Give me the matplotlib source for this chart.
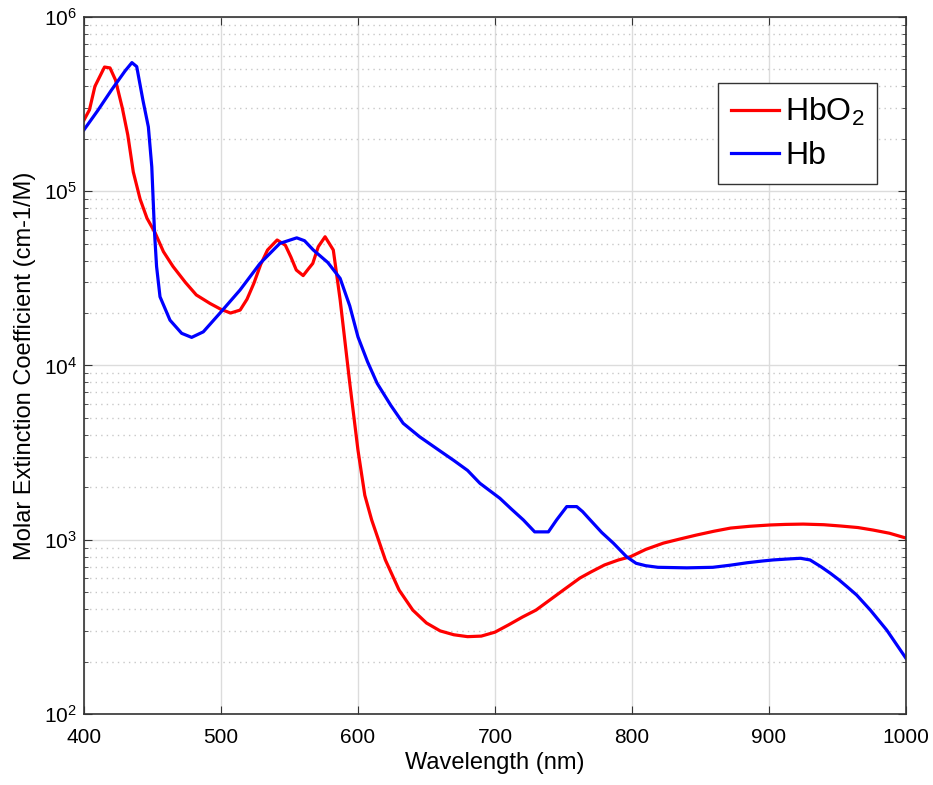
import numpy as np
import matplotlib.pyplot as plt

plt.rcParams['font.family'] = ['Liberation Sans', 'DejaVu Sans']
plt.rcParams['mathtext.default'] = 'regular'

# HbO2 (oxy-hemoglobin)
wl_hbo2 = [400, 404, 408, 415, 419, 423, 428, 432, 436, 441, 446, 452, 458, 465, 474,
           482, 492, 500, 507, 514, 519, 524, 529, 534, 541, 547, 551, 555, 560, 564,
           567, 571, 576, 582, 587, 594, 600, 605, 610, 620, 630, 640, 650, 660, 670,
           680, 690, 700, 710, 720, 730, 740, 750, 762, 770, 780, 790, 799, 810, 823,
           835, 847, 860, 872, 886, 901, 912, 925, 940, 952, 965, 976, 988, 1000]
hbo2 = [2.56e5, 2.93e5, 4.0e5, 5.16e5, 5.1e5, 4.35e5, 3.0e5, 2.1e5, 1.29e5, 9.0e4,
        7.0e4, 5.76e4, 4.5e4, 3.7e4, 3.0e4, 2.54e4, 2.27e4, 2.1e4, 2.0e4, 2.08e4,
        2.4e4, 2.96e4, 3.8e4, 4.6e4, 5.25e4, 4.9e4, 4.2e4, 3.53e4, 3.28e4, 3.6e4,
        3.85e4, 4.8e4, 5.48e4, 4.6e4, 2.38e4, 7.94e3, 3.27e3, 1.8e3, 1.3e3, 766, 515,
        395, 333, 300, 285, 278, 280, 295, 325, 360, 395, 451, 515, 603, 653, 717, 765,
        800, 880, 957, 1010, 1064, 1120, 1167, 1195, 1216, 1225, 1230, 1220, 1200, 1175,
        1137, 1090, 1023]

# Hb (deoxy-hemoglobin)
wl_hb = [400, 410, 420, 430, 435, 438.5, 443, 447, 449.5, 451.5, 453, 455.5, 462.8,
         471.3, 478.6, 487.1, 499.3, 513.9, 528.5, 543, 555.3, 561, 567.4, 578, 587,
         594, 600, 607, 614, 624, 633, 645, 659, 670, 680, 689, 703.6, 712, 720.7, 729,
         739, 745, 752.4, 759.7, 764, 769.5, 778, 786.5, 796, 803, 810, 819, 840, 859,
         872, 884, 895, 903, 913, 923, 930, 938, 945, 951, 957, 964, 974, 986, 1000]
hb = [2.25e5, 2.9e5, 3.8e5, 4.9e5, 5.47e5, 5.19e5, 3.34e5, 2.34e5, 1.38e5, 5.8e4,
      3.7e4, 2.48e4, 1.82e4, 1.53e4, 1.45e4, 1.56e4, 2.0e4, 2.71e4, 3.85e4, 5.02e4,
      5.4e4, 5.2e4, 4.6e4, 3.9e4, 3.16e4, 2.2e4, 1.46e4, 1.05e4, 7.9e3, 5.9e3, 4.66e3,
      3.9e3, 3.27e3, 2.85e3, 2.5e3, 2.11e3, 1.73e3, 1.5e3, 1.3e3, 1.11e3, 1.11e3,
      1.3e3, 1.55e3, 1.55e3, 1.45e3, 1.3e3, 1.1e3, 955, 800, 733, 710, 695, 690, 695,
      715, 738, 755, 766, 775, 783, 766, 700, 641, 590, 538, 482, 395, 303, 209]

fig = plt.figure(figsize=(9.33, 7.85), dpi=100)
ax = fig.add_axes([0.090, 0.0904, 0.881, 0.888])

ax.semilogy(wl_hbo2, hbo2, color='#ff0000', lw=2.3, label='HbO$_2$')
ax.semilogy(wl_hb, hb, color='#0000ff', lw=2.3, label='Hb')

ax.set_xlim(400, 1000)
ax.set_ylim(1e2, 1e6)
ax.set_xticks(np.arange(400, 1001, 100))

ax.grid(True, which='major', color='#dcdcdc', lw=1, ls='-')
ax.grid(True, which='minor', axis='y', color='#c8c8c8', lw=1, ls=(0, (1, 3)))
ax.set_axisbelow(True)

ax.tick_params(which='both', direction='in', top=True, right=True, labelsize=15,
               color='#333333')
ax.tick_params(which='major', length=6)
ax.tick_params(which='minor', length=3)
ax.tick_params(axis='x', pad=10)
ax.tick_params(axis='y', pad=5)
for s in ax.spines.values():
    s.set_color('#333333')
    s.set_linewidth(1.2)

ax.set_xlabel('Wavelength (nm)', fontsize=17, labelpad=4)
ax.set_ylabel('Molar Extinction Coefficient (cm-1/M)', fontsize=17, labelpad=6)

leg = ax.legend(loc='upper right', bbox_to_anchor=(0.965, 0.905), borderaxespad=0,
                fontsize=23, fancybox=False, framealpha=1, edgecolor='#333333',
                handlelength=1.5, handletextpad=0.2, borderpad=0.4, labelspacing=0.4)
leg.get_frame().set_linewidth(1)

fig.savefig('out.png', dpi=100)
